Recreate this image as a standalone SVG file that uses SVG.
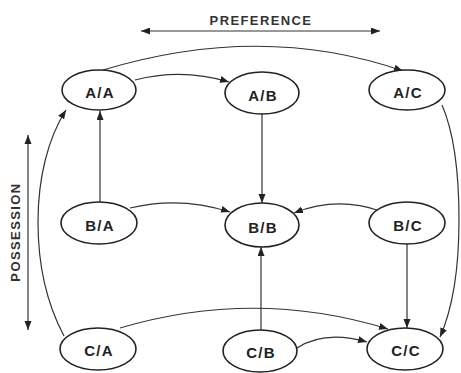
<svg xmlns="http://www.w3.org/2000/svg" width="461" height="373" viewBox="0 0 461 373">
<defs>
<style>
.node ellipse{fill:#fff;stroke:#222;stroke-width:1.6}
.node text{font-family:"Liberation Sans",Arial,sans-serif;font-size:15px;font-weight:bold;fill:#222;text-anchor:middle;letter-spacing:1.2px}
.edge{fill:none;stroke:#333;stroke-width:1.2}
.lbl{font-family:"Liberation Sans",Arial,sans-serif;font-size:13px;font-weight:bold;fill:#333;text-anchor:middle;letter-spacing:1.4px}
</style>
<marker id="ah" markerUnits="userSpaceOnUse" markerWidth="10" markerHeight="8" refX="9" refY="3.5" orient="auto">
<path d="M0,0 L9,3.5 L0,7 z" fill="#222"/>
</marker>
<marker id="ahs" markerUnits="userSpaceOnUse" markerWidth="10" markerHeight="8" refX="0" refY="3.5" orient="auto">
<path d="M9,0 L0,3.5 L9,7 z" fill="#222"/>
</marker>
</defs>
<rect width="461" height="373" fill="#fff"/>

<g id="axes">
<line class="edge" x1="141" y1="31" x2="380" y2="31" marker-start="url(#ahs)" marker-end="url(#ah)"/>
<text class="lbl" x="261" y="25">PREFERENCE</text>
<line class="edge" x1="28" y1="135" x2="28" y2="330" marker-start="url(#ahs)" marker-end="url(#ah)"/>
<text class="lbl" transform="translate(20,232) rotate(-90)" x="0" y="0">POSSESSION</text>
</g>

<g id="connectors">
<path class="edge" d="M103 70 Q 262 22 403 71" marker-end="url(#ah)"/>
<path class="edge" d="M135 80 Q 182 68 229 82" marker-end="url(#ah)"/>
<path class="edge" d="M100 202 L100 111" marker-end="url(#ah)"/>
<path class="edge" d="M262 114 L262 203" marker-end="url(#ah)"/>
<path class="edge" d="M130 208 Q 180 196 230 212" marker-end="url(#ah)"/>
<path class="edge" d="M380 211 Q 337 196 294 213" marker-end="url(#ah)"/>
<path class="edge" d="M64 336 C 48 306, 38 268, 38 222 C 38 178, 48 138, 66 110" marker-end="url(#ah)"/>
<path class="edge" d="M261 330 L261 247" marker-end="url(#ah)"/>
<path class="edge" d="M407 244 L407 328" marker-end="url(#ah)"/>
<path class="edge" d="M120 328 Q 255 288 388 329" marker-end="url(#ah)"/>
<path class="edge" d="M297 348 Q 325 330 367 342" marker-end="url(#ah)"/>
<path class="edge" d="M442 105 C 452 128, 459 165, 459 220 C 459 270, 452 310, 440 337" marker-end="url(#ah)"/>
</g>

<g id="node-AA" class="node"><ellipse cx="99" cy="90" rx="37" ry="20"/><text x="100" y="98">A/A</text></g>
<g id="node-AB" class="node"><ellipse cx="262" cy="93" rx="37" ry="21"/><text x="263" y="101">A/B</text></g>
<g id="node-AC" class="node"><ellipse cx="407" cy="90" rx="38" ry="20"/><text x="408" y="98">A/C</text></g>
<g id="node-BA" class="node"><ellipse cx="99" cy="223" rx="38" ry="21"/><text x="100" y="231">B/A</text></g>
<g id="node-BB" class="node"><ellipse cx="262" cy="225" rx="37" ry="22"/><text x="263" y="233">B/B</text></g>
<g id="node-BC" class="node"><ellipse cx="407" cy="223" rx="38" ry="21"/><text x="408" y="231">B/C</text></g>
<g id="node-CA" class="node"><ellipse cx="98" cy="349" rx="38" ry="21"/><text x="99" y="356">C/A</text></g>
<g id="node-CB" class="node"><ellipse cx="260" cy="351" rx="37" ry="21"/><text x="261" y="358">C/B</text></g>
<g id="node-CC" class="node"><ellipse cx="405" cy="349" rx="38" ry="21"/><text x="406" y="356">C/C</text></g>
</svg>
